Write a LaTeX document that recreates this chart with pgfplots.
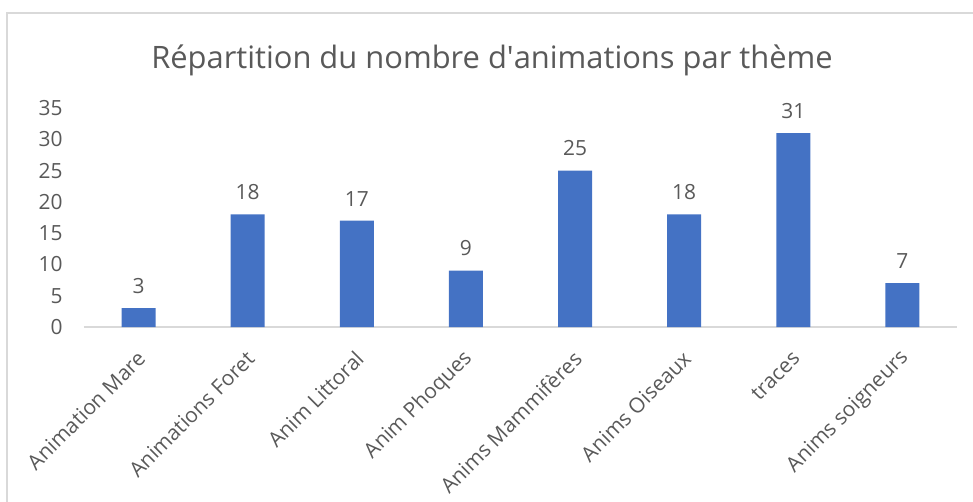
\documentclass[border=0pt]{standalone}
\usepackage{pgfplots}
\pgfplotsset{compat=1.18}
\usepackage{fontspec}
\setmainfont{Open Sans}
\definecolor{barblue}{HTML}{4472C4}
\definecolor{txtgray}{HTML}{595959}
\definecolor{linegray}{HTML}{D9D9D9}
\begin{document}
\begin{tikzpicture}
\path[use as bounding box] (-84bp,-175bp) rectangle (889bp,327bp);
\draw[linegray, line width=1.5bp] (-77bp,-175bp) -- (-77bp,314bp) -- (889bp,314bp);
\node[text=txtgray] at (408bp,267bp) {\fontsize{31}{36}\selectfont Répartition du nombre d\textquotesingle animations par thème};
\begin{axis}[
  at={(0,0)}, anchor=south west, scale only axis,
  width=873bp, height=219bp,
  xmin=-0.5, xmax=7.5, ymin=0, ymax=35,
  ybar, bar width=34bp,
  xtick=data,
  xticklabels={Animation Mare, Animations Foret, Anim Littoral, Anim Phoques, Anims Mammifères, Anims Oiseaux, traces, Anims soigneurs},
  ytick={0,5,...,35},
  separate axis lines,
  axis x line*=bottom, axis y line*=left,
  x axis line style={linegray, line width=1.2bp, -},
  y axis line style={draw=none},
  major tick length=0pt,
  tick label style={font=\fontsize{21}{24}\selectfont, text=txtgray},
  /pgf/number format/assume math mode=true,
  yticklabel style={anchor=east, xshift=-18bp},
  xticklabel style={xshift=3bp, yshift=-28bp, rotate=45, anchor=east, inner sep=0pt},
  nodes near coords,
  nodes near coords style={font=\fontsize{21}{24}\selectfont, text=txtgray, yshift=11bp},
  clip=false,
]
\addplot[fill=barblue, draw=none] coordinates {(0,3) (1,18) (2,17) (3,9) (4,25) (5,18) (6,31) (7,7)};
\end{axis}
\end{tikzpicture}
\end{document}
